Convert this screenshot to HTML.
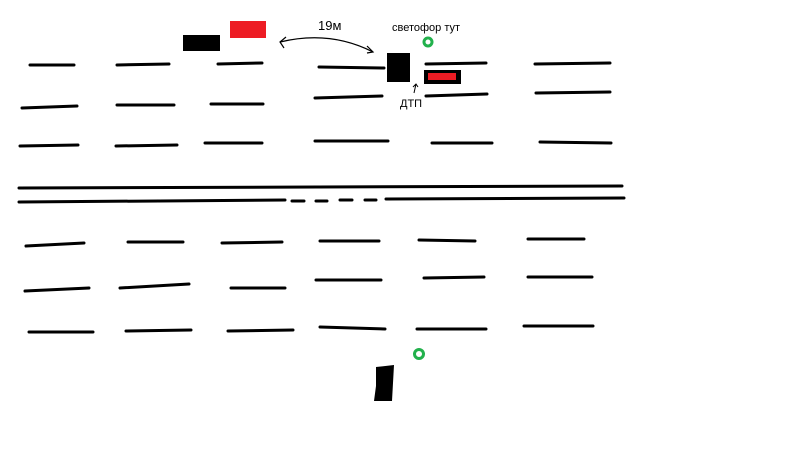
<!DOCTYPE html>
<html><head><meta charset="utf-8"><style>
html,body{margin:0;padding:0;background:#fff;width:800px;height:449px;overflow:hidden}
svg{display:block}
text{font-family:"Liberation Sans","Noto Sans CJK SC",sans-serif}
</style></head><body>
<svg width="800" height="449" viewBox="0 0 800 449">
<g stroke="#000" stroke-width="3" stroke-linecap="round">
<line x1="30" y1="65" x2="74" y2="65"/><line x1="117" y1="65" x2="169" y2="64"/><line x1="218" y1="64" x2="262" y2="63"/><line x1="319" y1="67" x2="384" y2="68"/><line x1="426" y1="64" x2="486" y2="63"/><line x1="535" y1="64" x2="610" y2="63"/>
<line x1="22" y1="108" x2="77" y2="106"/><line x1="117" y1="105" x2="174" y2="105"/><line x1="211" y1="104" x2="263" y2="104"/><line x1="315" y1="98" x2="382" y2="96"/><line x1="426" y1="96" x2="487" y2="94"/><line x1="536" y1="93" x2="610" y2="92"/>
<line x1="20" y1="146" x2="78" y2="145"/><line x1="116" y1="146" x2="177" y2="145"/><line x1="205" y1="143" x2="262" y2="143"/><line x1="315" y1="141" x2="388" y2="141"/><line x1="432" y1="143" x2="492" y2="143"/><line x1="540" y1="142" x2="611" y2="143"/>
<line x1="19" y1="188" x2="622" y2="186"/>
<line x1="19" y1="202" x2="285" y2="200"/><line x1="292" y1="201" x2="304" y2="201"/><line x1="316" y1="201" x2="327" y2="201"/><line x1="340" y1="200" x2="352" y2="200"/><line x1="365" y1="200" x2="376" y2="200"/><line x1="386" y1="199" x2="624" y2="198"/>
<line x1="26" y1="246" x2="84" y2="243"/><line x1="128" y1="242" x2="183" y2="242"/><line x1="222" y1="243" x2="282" y2="242"/><line x1="320" y1="241" x2="379" y2="241"/><line x1="419" y1="240" x2="475" y2="241"/><line x1="528" y1="239" x2="584" y2="239"/>
<line x1="25" y1="291" x2="89" y2="288"/><line x1="120" y1="288" x2="189" y2="284"/><line x1="231" y1="288" x2="285" y2="288"/><line x1="316" y1="280" x2="381" y2="280"/><line x1="424" y1="278" x2="484" y2="277"/><line x1="528" y1="277" x2="592" y2="277"/>
<line x1="29" y1="332" x2="93" y2="332"/><line x1="126" y1="331" x2="191" y2="330"/><line x1="228" y1="331" x2="293" y2="330"/><line x1="320" y1="327" x2="385" y2="329"/><line x1="417" y1="329" x2="486" y2="329"/><line x1="524" y1="326" x2="593" y2="326"/>
</g>
<rect x="183" y="35" width="37" height="16" fill="#000"/>
<rect x="230" y="21" width="36" height="17" fill="#ed1c24"/>
<rect x="387" y="53" width="23" height="29" fill="#000"/>
<rect x="424" y="70" width="37" height="14" fill="#000"/>
<rect x="428" y="73" width="28" height="7" fill="#ed1c24"/>
<path d="M376 386 L374 401 L392 401 L394 365 L376 367 Z" fill="#000"/>
<path d="M280 42 Q330 30 373 52" fill="none" stroke="#000" stroke-width="1.2"/>
<path d="M286 37 L280 42 L284 48 M367 46 L373 52 L367 53" fill="none" stroke="#000" stroke-width="1.2"/>
<text x="318" y="30" font-size="13">19м</text>
<text x="392" y="31" font-size="11">светофор тут</text>
<circle cx="428" cy="42" r="4" fill="none" stroke="#22b14c" stroke-width="3"/>
<circle cx="419" cy="354" r="4.5" fill="none" stroke="#22b14c" stroke-width="3"/>
<path d="M414 93 L416 84 M413 87 L416 84 L418 87" fill="none" stroke="#000" stroke-width="1"/>
<text x="400" y="107" font-size="11">ДТП</text>
</svg>
</body></html>
